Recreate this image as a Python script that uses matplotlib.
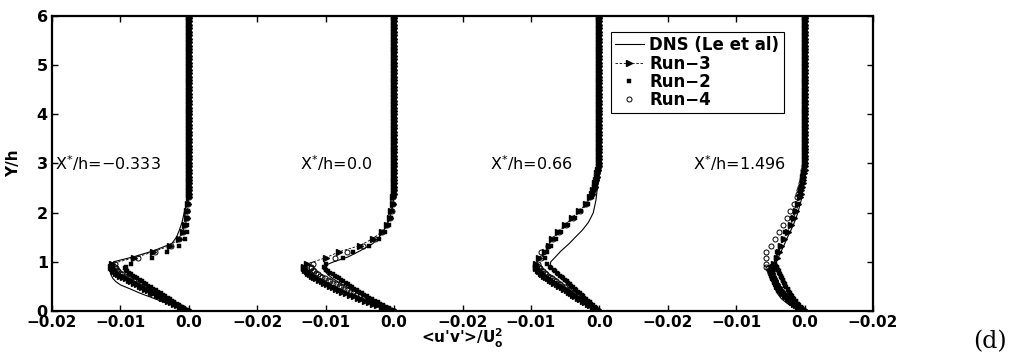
import matplotlib
matplotlib.use("Agg")
import matplotlib.pyplot as plt

# wall-normal positions of the run data (Y/h)
Y_NEAR = [0.00, 0.03, 0.06, 0.09, 0.12, 0.15, 0.18, 0.21, 0.24, 0.27,
          0.30, 0.33, 0.36, 0.39, 0.42, 0.45, 0.48, 0.51, 0.54, 0.57,
          0.60, 0.63, 0.66, 0.69, 0.72, 0.75, 0.78, 0.81, 0.84, 0.87, 0.90]
Y_MID = [0.96, 1.08, 1.20, 1.33, 1.47, 1.61, 1.75, 1.89, 2.03, 2.17, 2.31]
Y_TOP = [2.38, 2.45, 2.52, 2.59, 2.66, 2.73, 2.80, 2.87, 2.94, 3.01,
         3.08, 3.15, 3.22, 3.29, 3.36, 3.43, 3.50, 3.57, 3.64, 3.71,
         3.78, 3.85, 3.92, 3.99, 4.06, 4.13, 4.20, 4.27, 4.34, 4.41,
         4.48, 4.55, 4.62, 4.69, 4.76, 4.83, 4.90, 4.97, 5.04, 5.11,
         5.18, 5.25, 5.32, 5.39, 5.46, 5.53, 5.60, 5.67, 5.74, 5.81,
         5.88, 5.95, 6.00]
Y_RUN = Y_NEAR + Y_MID + Y_TOP

DNS_Y = [0.0, 0.08, 0.16, 0.25, 0.36, 0.45, 0.53, 0.60, 0.66, 0.74, 0.83, 0.92,
         1.00, 1.10, 1.22, 1.37, 1.50, 1.64, 1.80, 1.99, 2.25, 2.60, 3.00, 6.00]

stations = ["\u22120.333", "0.0", "0.66", "1.496"]

# <u'v'>/U0^2, DNS (Le et al)
dns_1 = [0.0, -0.0017, -0.0033, -0.0050, -0.0071, -0.0086, -0.0100, -0.0107, -0.0111, -0.0114,
         -0.0114, -0.0114, -0.0110, -0.0081, -0.0052, -0.0025, -0.0018, -0.0014, -0.0010, -0.0007,
         -0.0002, 0.0, 0.0, 0.0]
dns_2 = [0.0, -0.0013, -0.0025, -0.0039, -0.0053, -0.0064, -0.0074, -0.0083, -0.0090, -0.0097,
         -0.0102, -0.0102, -0.0088, -0.0067, -0.0050, -0.0031, -0.0022, -0.0015, -0.0009, -0.0004,
         -0.0001, 0.0, 0.0, 0.0]
dns_3 = [0.0, -0.0007, -0.0014, -0.0022, -0.0031, -0.0038, -0.0045, -0.0051, -0.0056, -0.0062,
         -0.0068, -0.0072, -0.0071, -0.0064, -0.0056, -0.0044, -0.0035, -0.0025, -0.0016, -0.0009,
         -0.0005, -0.0002, 0.0, 0.0]
dns_4 = [0.0, -0.0015, -0.0026, -0.0034, -0.0040, -0.0043, -0.0045, -0.0046, -0.0046, -0.0046,
         -0.0045, -0.0043, -0.0041, -0.0038, -0.0034, -0.0029, -0.0025, -0.0020, -0.0015, -0.0010,
         -0.0005, -0.0002, 0.0, 0.0]

# Run-3 (zero above the listed values)
run3_1 = [0.0, -0.0004, -0.0009, -0.0013, -0.0017, -0.0022, -0.0026, -0.0030, -0.0035, -0.0039,
          -0.0043, -0.0047, -0.0052, -0.0056, -0.0060, -0.0064, -0.0068, -0.0072, -0.0076, -0.0080,
          -0.0084, -0.0088, -0.0092, -0.0096, -0.0100, -0.0103, -0.0106, -0.0109, -0.0111, -0.0113, -0.0114,
          -0.0113, -0.0080, -0.0052, -0.0027, -0.0015, -0.0009, -0.0005, -0.0003, -0.0002, -0.0001]
run3_2 = [0.0, -0.0006, -0.0012, -0.0018, -0.0025, -0.0031, -0.0036, -0.0042, -0.0048, -0.0053,
          -0.0059, -0.0065, -0.0070, -0.0076, -0.0081, -0.0085, -0.0090, -0.0094, -0.0098, -0.0102,
          -0.0106, -0.0110, -0.0114, -0.0117, -0.0120, -0.0123, -0.0126, -0.0128, -0.0130, -0.0131, -0.0131,
          -0.0127, -0.0100, -0.0081, -0.0050, -0.0031, -0.0018, -0.0010, -0.0006, -0.0004, -0.0002, -0.0001]
run3_3 = [0.0, -0.0003, -0.0007, -0.0010, -0.0014, -0.0017, -0.0021, -0.0024, -0.0028, -0.0031,
          -0.0035, -0.0038, -0.0041, -0.0045, -0.0048, -0.0052, -0.0055, -0.0059, -0.0062, -0.0066,
          -0.0069, -0.0072, -0.0075, -0.0078, -0.0081, -0.0084, -0.0086, -0.0088, -0.0090, -0.0092, -0.0093,
          -0.0093, -0.0088, -0.0080, -0.0074, -0.0069, -0.0060, -0.0050, -0.0040, -0.0030, -0.0019, -0.0013,
          -0.0011, -0.0009, -0.0007, -0.0006, -0.0005, -0.0004, -0.0003, -0.0002, -0.0001]
run3_4 = [0.0, -0.0003, -0.0006, -0.0009, -0.0012, -0.0015, -0.0018, -0.0020, -0.0023, -0.0025,
          -0.0027, -0.0029, -0.0031, -0.0033, -0.0035, -0.0037, -0.0038, -0.0040, -0.0041, -0.0042,
          -0.0043, -0.0044, -0.0045, -0.0046, -0.0046, -0.0047, -0.0047, -0.0047, -0.0047, -0.0047, -0.0046,
          -0.0045, -0.0041, -0.0038, -0.0034, -0.0030, -0.0025, -0.0020, -0.0016, -0.0012, -0.0009, -0.0007,
          -0.0006, -0.0005, -0.0004, -0.0003, -0.0002, -0.0002, -0.0001]

# Run-2
run2_1 = [0.0, -0.0003, -0.0007, -0.0010, -0.0014, -0.0017, -0.0021, -0.0024, -0.0028, -0.0031,
          -0.0035, -0.0038, -0.0041, -0.0045, -0.0048, -0.0052, -0.0055, -0.0059, -0.0062, -0.0066,
          -0.0069, -0.0072, -0.0076, -0.0079, -0.0082, -0.0085, -0.0088, -0.0090, -0.0092, -0.0093, -0.0092,
          -0.0085, -0.0054, -0.0032, -0.0015, -0.0006, -0.0003, -0.0002, -0.0002, -0.0001, -0.0001]
run2_2 = [0.0, -0.0004, -0.0008, -0.0012, -0.0016, -0.0020, -0.0024, -0.0028, -0.0032, -0.0036,
          -0.0040, -0.0044, -0.0047, -0.0051, -0.0054, -0.0058, -0.0061, -0.0064, -0.0068, -0.0071,
          -0.0074, -0.0078, -0.0081, -0.0084, -0.0087, -0.0090, -0.0093, -0.0096, -0.0099, -0.0101, -0.0103,
          -0.0100, -0.0074, -0.0060, -0.0036, -0.0022, -0.0013, -0.0008, -0.0005, -0.0003, -0.0002, -0.0001]
run2_3 = [0.0, -0.0002, -0.0005, -0.0007, -0.0010, -0.0012, -0.0014, -0.0017, -0.0019, -0.0022,
          -0.0024, -0.0026, -0.0029, -0.0031, -0.0034, -0.0036, -0.0038, -0.0041, -0.0043, -0.0046,
          -0.0048, -0.0050, -0.0053, -0.0055, -0.0058, -0.0060, -0.0062, -0.0065, -0.0067, -0.0070, -0.0072,
          -0.0076, -0.0079, -0.0076, -0.0070, -0.0064, -0.0056, -0.0046, -0.0036, -0.0027, -0.0017, -0.0011,
          -0.0009, -0.0008, -0.0006, -0.0005, -0.0004, -0.0003, -0.0002, -0.0001]
run2_4 = [0.0, -0.0002, -0.0004, -0.0006, -0.0008, -0.0010, -0.0012, -0.0013, -0.0015, -0.0017,
          -0.0018, -0.0020, -0.0021, -0.0023, -0.0024, -0.0025, -0.0027, -0.0028, -0.0029, -0.0030,
          -0.0031, -0.0032, -0.0033, -0.0034, -0.0035, -0.0036, -0.0037, -0.0038, -0.0039, -0.0040, -0.0041,
          -0.0044, -0.0042, -0.0040, -0.0036, -0.0032, -0.0028, -0.0022, -0.0018, -0.0014, -0.0010, -0.0007,
          -0.0006, -0.0005, -0.0004, -0.0003, -0.0002, -0.0002, -0.0001]

# Run-4
run4_1 = [0.0, -0.0004, -0.0008, -0.0012, -0.0016, -0.0020, -0.0024, -0.0028, -0.0032, -0.0036,
          -0.0040, -0.0044, -0.0048, -0.0052, -0.0056, -0.0060, -0.0064, -0.0068, -0.0072, -0.0076,
          -0.0080, -0.0084, -0.0088, -0.0091, -0.0094, -0.0097, -0.0100, -0.0103, -0.0105, -0.0107, -0.0108,
          -0.0108, -0.0074, -0.0050, -0.0026, -0.0014, -0.0008, -0.0005, -0.0003, -0.0002, -0.0001]
run4_2 = [0.0, -0.0005, -0.0010, -0.0015, -0.0020, -0.0025, -0.0030, -0.0035, -0.0040, -0.0045,
          -0.0050, -0.0055, -0.0060, -0.0064, -0.0069, -0.0073, -0.0077, -0.0081, -0.0085, -0.0089,
          -0.0093, -0.0097, -0.0101, -0.0105, -0.0108, -0.0111, -0.0114, -0.0117, -0.0119, -0.0121, -0.0122,
          -0.0118, -0.0087, -0.0069, -0.0046, -0.0028, -0.0017, -0.0010, -0.0006, -0.0003, -0.0002, -0.0001]
run4_3 = [0.0, -0.0003, -0.0006, -0.0009, -0.0013, -0.0016, -0.0019, -0.0022, -0.0025, -0.0028,
          -0.0032, -0.0035, -0.0038, -0.0041, -0.0044, -0.0047, -0.0050, -0.0054, -0.0057, -0.0060,
          -0.0063, -0.0066, -0.0069, -0.0072, -0.0075, -0.0078, -0.0080, -0.0083, -0.0085, -0.0087, -0.0088,
          -0.0089, -0.0086, -0.0086, -0.0075, -0.0068, -0.0059, -0.0049, -0.0039, -0.0029, -0.0019, -0.0013,
          -0.0011, -0.0009, -0.0007, -0.0006, -0.0005, -0.0004, -0.0003, -0.0002, -0.0001]
run4_4 = [0.0, -0.0003, -0.0006, -0.0009, -0.0012, -0.0015, -0.0018, -0.0021, -0.0023, -0.0026,
          -0.0028, -0.0030, -0.0032, -0.0034, -0.0036, -0.0038, -0.0039, -0.0041, -0.0042, -0.0043,
          -0.0044, -0.0045, -0.0046, -0.0047, -0.0048, -0.0049, -0.0050, -0.0051, -0.0052, -0.0054, -0.0056,
          -0.0057, -0.0057, -0.0056, -0.0049, -0.0043, -0.0037, -0.0031, -0.0026, -0.0021, -0.0015, -0.0011,
          -0.0009, -0.0008, -0.0007, -0.0005, -0.0004, -0.0003, -0.0002, -0.0002, -0.0001]

dns = [dns_1, dns_2, dns_3, dns_4]
run3 = [run3_1, run3_2, run3_3, run3_4]
run2 = [run2_1, run2_2, run2_3, run2_4]
run4 = [run4_1, run4_2, run4_3, run4_4]

xtick_labels = ["\u22120.02", "\u22120.01", "0.0"] * 4 + ["\u22120.02"]


def pad(vals):
    # the profiles are zero further out
    return vals + [0.0] * (len(Y_RUN) - len(vals))


plt.rcParams['font.family'] = ['DejaVu Sans']
plt.rcParams['mathtext.fontset'] = 'dejavusans'

fig = plt.figure(figsize=(10.18, 3.59), dpi=100)
ax = fig.add_axes([0.0511, 0.1337, 0.8065, 0.8231])

spacing = 0.03
for i in range(4):
    off = i * spacing
    ax.plot([v + off for v in dns[i]], DNS_Y, '-', color='k', lw=0.8,
            label='DNS (Le et al)' if i == 0 else None)
    ax.plot([v + off for v in pad(run3[i])], Y_RUN, '--', color='k', lw=0.6,
            dashes=(3, 2), marker='>', ms=3.8, mfc='k', mec='k',
            label='Run\u22123' if i == 0 else None)
    ax.plot([v + off for v in pad(run2[i])], Y_RUN, 's', color='k', ms=2.9,
            mew=0.3, label='Run\u22122' if i == 0 else None)
    ax.plot([v + off for v in pad(run4[i])], Y_RUN, 'o', mfc='none', mec='k',
            ms=3.6, mew=0.7, label='Run\u22124' if i == 0 else None)

text_x = [-0.0196, 0.0163, 0.0440, 0.0737]
for i in range(4):
    ax.text(text_x[i], 3.0, 'X$^{*}$/h=' + stations[i], fontsize=11.5,
            va='center', ha='left')

ax.set_xlim(-0.02, 0.10)
ax.set_ylim(0, 6)
ax.set_xticks([-0.02 + 0.01 * k for k in range(13)])
ax.set_xticklabels(xtick_labels, fontweight='bold', fontsize=11)
ax.set_yticks(range(7))
ax.set_yticklabels([str(k) for k in range(7)], fontweight='bold', fontsize=11.5)
ax.tick_params(direction='in', top=True, right=True, length=4, width=1, pad=3)
for s in ax.spines.values():
    s.set_linewidth(1.6)

ax.set_xlabel("<u'v'>/U$_{\\mathbf{o}}^{\\mathbf{2}}$", fontweight='bold', fontsize=11)
ax.xaxis.set_label_coords(0.5, -0.055)
ax.set_ylabel('Y/h', fontweight='bold', fontsize=11)
ax.yaxis.set_label_coords(-0.038, 0.5)

leg = ax.legend(loc='upper left', bbox_to_anchor=(0.681, 0.944), borderaxespad=0,
                fancybox=False, framealpha=1, edgecolor='k', numpoints=1,
                prop={'weight': 'bold', 'size': 12}, handlelength=1.7,
                handletextpad=0.35, labelspacing=0.02, borderpad=0.25)
leg.get_frame().set_linewidth(0.8)

fig.text(0.956, 0.031, '(d)', family='DejaVu Serif', fontsize=17, va='baseline')

fig.savefig('out.png', dpi=100)
